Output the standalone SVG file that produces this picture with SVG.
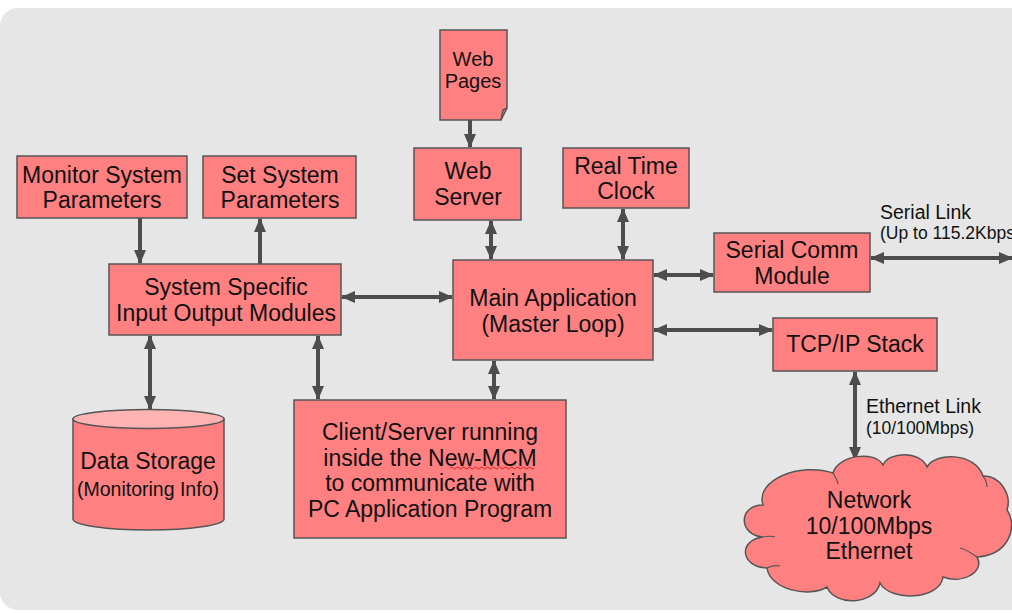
<svg xmlns="http://www.w3.org/2000/svg" width="1012" height="613" viewBox="0 0 1012 613">
<style>
.box{fill:#ff8080;stroke:#555;stroke-width:1.5}
.t{font-family:"Liberation Sans",Arial,sans-serif;font-size:23px;fill:#111;text-anchor:middle}
.s{font-family:"Liberation Sans",Arial,sans-serif;font-size:19.5px;fill:#111}
.ss{font-size:17.5px}
.c{stroke:#4d4d4d;stroke-width:4;fill:none}
</style>
<defs>
<marker id="ah" viewBox="0 0 14 12" refX="13" refY="6" markerWidth="14" markerHeight="12" markerUnits="userSpaceOnUse" orient="auto-start-reverse">
<path d="M0,0 L14,6 L0,12 Z" fill="#4d4d4d"/>
</marker>
</defs>
<rect x="0" y="0" width="1012" height="613" fill="#fff"/>
<rect x="0" y="8" width="1040" height="602" rx="18" fill="#e6e6e6"/>

<g id="connectors">
<line class="c" x1="470" y1="120" x2="470" y2="147" marker-end="url(#ah)"/>
<line class="c" x1="140" y1="218" x2="140" y2="263" marker-end="url(#ah)"/>
<line class="c" x1="260" y1="264" x2="260" y2="219" marker-end="url(#ah)"/>
<line class="c" x1="342" y1="297" x2="452" y2="297" marker-start="url(#ah)" marker-end="url(#ah)"/>
<line class="c" x1="491" y1="221" x2="491" y2="259" marker-start="url(#ah)" marker-end="url(#ah)"/>
<line class="c" x1="623" y1="209" x2="623" y2="259" marker-start="url(#ah)" marker-end="url(#ah)"/>
<line class="c" x1="654" y1="275" x2="713" y2="275" marker-start="url(#ah)" marker-end="url(#ah)"/>
<line class="c" x1="871" y1="258" x2="1012" y2="258" marker-start="url(#ah)" marker-end="url(#ah)"/>
<line class="c" x1="654" y1="330" x2="772" y2="330" marker-start="url(#ah)" marker-end="url(#ah)"/>
<line class="c" x1="855" y1="372" x2="855" y2="460" marker-start="url(#ah)" marker-end="url(#ah)"/>
<line class="c" x1="150" y1="336" x2="150" y2="409" marker-start="url(#ah)" marker-end="url(#ah)"/>
<line class="c" x1="318" y1="336" x2="318" y2="399" marker-start="url(#ah)" marker-end="url(#ah)"/>
<line class="c" x1="494" y1="361" x2="494" y2="399" marker-start="url(#ah)" marker-end="url(#ah)"/>
<text class="s" x="880" y="219">Serial Link</text>
<text class="s ss" x="880" y="239">(Up to 115.2Kbps)</text>
<text class="s" x="866" y="413">Ethernet Link</text>
<text class="s ss" x="866" y="434">(10/100Mbps)</text>
</g>

<g id="web-pages">
<path class="box" d="M440,30 H507 V108 L501,120 H440 Z"/>
<path d="M507,108 L503,110 L501,120" fill="none" stroke="#555" stroke-width="1.5"/>
<text class="t" x="473" y="66" style="font-size:20px">Web</text>
<text class="t" x="473" y="88" style="font-size:20px">Pages</text>
</g>

<g id="web-server">
<rect class="box" x="414" y="148" width="107" height="72"/>
<text class="t" x="468" y="179">Web</text>
<text class="t" x="468" y="205">Server</text>
</g>

<g id="rtc">
<rect class="box" x="563" y="148" width="126" height="60"/>
<text class="t" x="626" y="174">Real Time</text>
<text class="t" x="626" y="199">Clock</text>
</g>

<g id="monitor">
<rect class="box" x="17" y="156" width="170" height="62"/>
<text class="t" x="102" y="183">Monitor System</text>
<text class="t" x="102" y="208">Parameters</text>
</g>

<g id="set">
<rect class="box" x="203" y="156" width="153" height="62"/>
<text class="t" x="280" y="183">Set System</text>
<text class="t" x="280" y="208">Parameters</text>
</g>

<g id="ssio">
<rect class="box" x="109" y="264" width="232" height="71"/>
<text class="t" x="226" y="295">System Specific</text>
<text class="t" x="226" y="321">Input Output Modules</text>
</g>

<g id="main-app">
<rect class="box" x="453" y="260" width="200" height="100"/>
<text class="t" x="553" y="306">Main Application</text>
<text class="t" x="553" y="332">(Master Loop)</text>
</g>

<g id="serial-comm">
<rect class="box" x="714" y="233" width="156" height="59"/>
<text class="t" x="792" y="258">Serial Comm</text>
<text class="t" x="792" y="284">Module</text>
</g>

<g id="tcpip">
<rect class="box" x="773" y="318" width="164" height="53"/>
<text class="t" x="855" y="352">TCP/IP Stack</text>
</g>

<g id="client-server">
<rect class="box" x="294" y="400" width="272" height="138"/>
<text class="t" x="430" y="440">Client/Server running</text>
<text class="t" x="430" y="466">inside the New-MCM</text>
<text class="t" x="430" y="491">to communicate with</text>
<text class="t" x="430" y="517">PC Application Program</text>
<path d="M450,468 q1.5,-2 3,0 t3,0 t3,0 t3,0 t3,0 t3,0 t3,0 t3,0 t3,0 t3,0 t3,0 t3,0 t3,0 t3,0 t3,0 t3,0 t3,0 t3,0 t3,0 t3,0 t3,0 t3,0 t3,0 t3,0 t3,0 t3,0 t3,0 t3,0" fill="none" stroke="#e02020" stroke-width="1"/>
</g>

<g id="data-storage">
<path class="box" d="M73,419 V519 A75.5,11 0 0 0 224,519 V419 Z"/>
<ellipse cx="148.5" cy="419" rx="75.5" ry="9.5" fill="#ffb3b3" stroke="#555" stroke-width="1.5"/>
<text class="t" x="148" y="469">Data Storage</text>
<text class="t" x="148" y="496" style="font-size:19.5px">(Monitoring Info)</text>
</g>

<g id="network">
<path class="box" d="M763,505 C755,480 800,462 833,473 C838,455 875,450 883,465 C888,452 920,450 927,467 C935,452 975,452 983,476 C1000,475 1012,495 1007,510 C1018,525 1010,555 977,557 C985,570 965,585 943,577 C940,600 890,602 880,583 C875,605 835,607 827,587 C810,598 770,590 767,568 C740,567 738,540 763,537 C738,535 738,505 763,505 Z"/>
<path d="M833,473 C836,478 838,482 838,484 M983,476 C986,480 987,484 987,487 M977,557 C970,552 965,549 960,548 M763,537 C768,536 772,536 775,537 M767,568 C771,566 775,565 780,566" fill="none" stroke="#555" stroke-width="1.2"/>
<text class="t" x="869" y="508">Network</text>
<text class="t" x="869" y="534">10/100Mbps</text>
<text class="t" x="869" y="559">Ethernet</text>
</g>
</svg>
